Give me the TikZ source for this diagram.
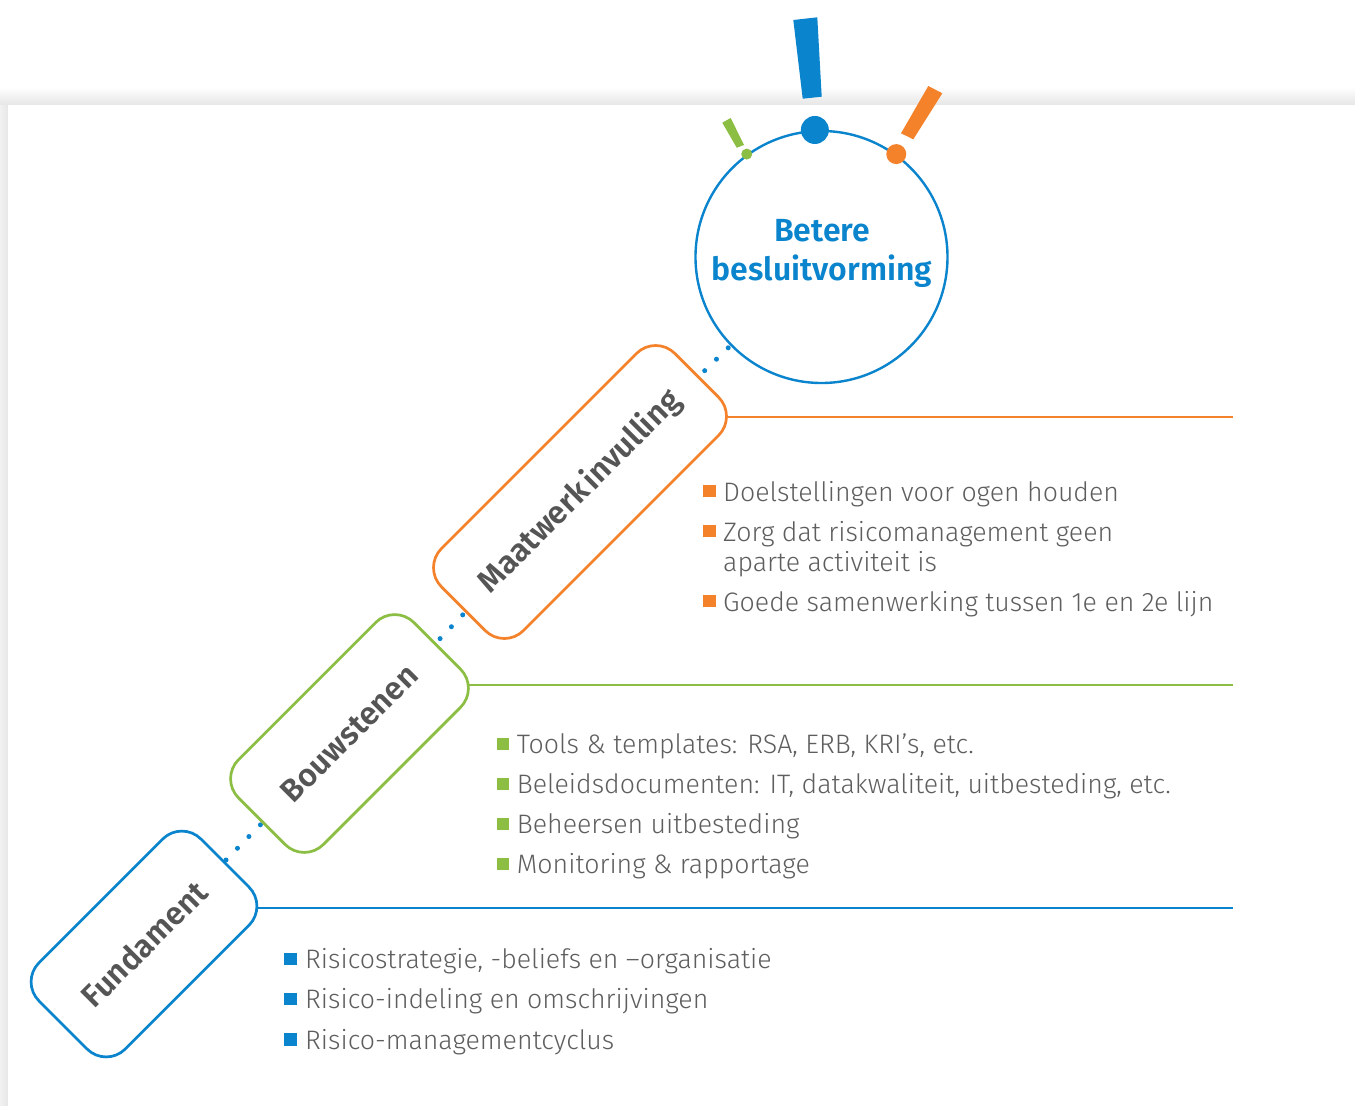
\documentclass[tikz,border=0pt]{standalone}
\usepackage{fontspec}
\setmainfont{Fira Sans Light}[BoldFont={Fira Sans SemiBold}]
\usetikzlibrary{calc}
\definecolor{cblue}{HTML}{0A84CC}
\definecolor{corange}{HTML}{F3822A}
\definecolor{cgreen}{HTML}{8BBE42}
\definecolor{ctext}{HTML}{5E5E5E}
\definecolor{clabel}{HTML}{555555}
\pgfdeclarelayer{bg}
\pgfdeclarelayer{conn}
\pgfsetlayers{bg,conn,main}
\begin{document}
\begin{tikzpicture}[x=1pt,y=-1pt,
  stage/.style={draw=#1, line width=2.7pt, fill=white, rounded corners=27pt, rotate=45,
    font=\fontsize{31.8}{34}\selectfont\bfseries, text=clabel, inner sep=0pt},
  item/.style={anchor=base west, inner sep=0pt, text=ctext, font=\fontsize{26.7}{30}\selectfont},
  sq/.style={fill=#1, minimum size=12.5pt, inner sep=0pt},
  dotline/.style={cblue, line width=5pt, line cap=round, dash pattern=on 0pt off 16.4pt},
  rule/.style={draw=#1, line width=2.6pt},
  goaltext/.style={anchor=base, inner sep=0pt, text=cblue, font=\fontsize{32}{36}\selectfont\bfseries},
  spot/.style={circle, fill=#1, inner sep=0pt}
]
\useasboundingbox (0,0) rectangle (1355,1106);

% background panel with soft shadow
\begin{pgfonlayer}{bg}
  \fill[white] (0,0) rectangle (1355,1106);
  \foreach \k in {1,...,17}{
    \pgfmathsetmacro\op{\k*0.0055}
    \fill[black, opacity=\op] (0,87+\k) rectangle (1355,88+\k);
  }
  \foreach \k in {1,...,8}{
    \pgfmathsetmacro\op{0.05+\k*0.005}
    \fill[black, opacity=\op] (\k-1,105) rectangle (\k,1106);
  }
\end{pgfonlayer}

% goal circle
\node[circle, draw=cblue, line width=2.4pt, fill=white, minimum size=252pt, inner sep=0pt] (goal) at (821.5,257) {};
\node[goaltext] (goalA) at (822,241) {Betere};
\node[goaltext] (goalB) at (822,280) {besluitvorming};

% dots on the circle
\node[spot=cblue, minimum size=28pt] (bdot) at (goal.93) {};
\node[spot=corange, minimum size=20pt] (odot) at (goal.54) {};
\node[spot=cgreen, minimum size=11pt] (gdot) at (goal.126) {};

% exclamation bars
\fill[cblue] (793.3,20) -- (817.3,17.3) -- (821.7,96.7) -- (802.7,98.7) -- cycle;
\fill[corange] (928.3,86) -- (942.3,93.3) -- (913.3,139.3) -- (901,133.3) -- cycle;
\fill[cgreen] (722.3,122.7) -- (730.7,118) -- (744,145) -- (736.7,147.7) -- cycle;

% stage boxes
\node[stage=corange, minimum width=330pt, minimum height=116pt] (maat) at (580,492) {Maatwerk\hspace{0.12em}invulling};
\node[stage=cgreen, minimum width=248pt, minimum height=120pt] (bouw) at (349.5,733.5) {Bouwstenen};
\node[stage=cblue, minimum width=229pt, minimum height=122pt] (fund) at (144,944) {Fundament};

% line ends
\coordinate (oend) at (1233,417);
\coordinate (gend) at (1233,685);
\coordinate (bend) at (1233,908);

\begin{pgfonlayer}{conn}
  \draw[dotline, dash phase=13.8pt] (fund.center) -- (bouw.center);
  \draw[dotline] (bouw.center) -- (maat.center);
  \draw[dotline, dash phase=6.4pt] (maat.center) -- (goal.center);
  \draw[rule=corange] (maat.center |- oend) -- (oend);
  \draw[rule=cgreen] (bouw.center |- gend) -- (gend);
  \draw[rule=cblue] (fund.center |- bend) -- (bend);
\end{pgfonlayer}

% orange list
\node[sq=corange] (ob1) at (709.5,491.2) {};
\node[item] (ot1) at (723,501) {Doelstellingen voor ogen houden};
\node[sq=corange] (ob2) at (709.5,531.2) {};
\node[item] (ot2) at (723,541) {Zorg dat risicomanagement geen};
\node[item] (ot2b) at (723,571) {aparte activiteit is};
\node[sq=corange] (ob3) at (709.5,601.2) {};
\node[item] (ot3) at (723,611) {Goede samenwerking tussen 1e en 2e lijn};

% green list
\node[sq=cgreen] (gb1) at (503,743.8) {};
\node[item] (gt1) at (516.7,753.3) {Tools \& templates: RSA, ERB, KRI’s, etc.};
\node[sq=cgreen] (gb2) at (503,783.8) {};
\node[item] (gt2) at (516.7,793.3) {Beleidsdocumenten: IT, datakwaliteit, uitbesteding, etc.};
\node[sq=cgreen] (gb3) at (503,823.8) {};
\node[item] (gt3) at (516.7,833.3) {Beheersen uitbesteding};
\node[sq=cgreen] (gb4) at (503,863.8) {};
\node[item] (gt4) at (516.7,873.3) {Monitoring \& rapportage};

% blue list
\node[sq=cblue] (bb1) at (290.5,958.8) {};
\node[item] (bt1) at (305,968.3) {Risicostrategie, -beliefs en –organisatie};
\node[sq=cblue] (bb2) at (290.5,998.8) {};
\node[item] (bt2) at (305,1008.3) {Risico-indeling en omschrijvingen};
\node[sq=cblue] (bb3) at (290.5,1039.3) {};
\node[item] (bt3) at (305,1049) {Risico-managementcyclus};
\end{tikzpicture}
\end{document}
